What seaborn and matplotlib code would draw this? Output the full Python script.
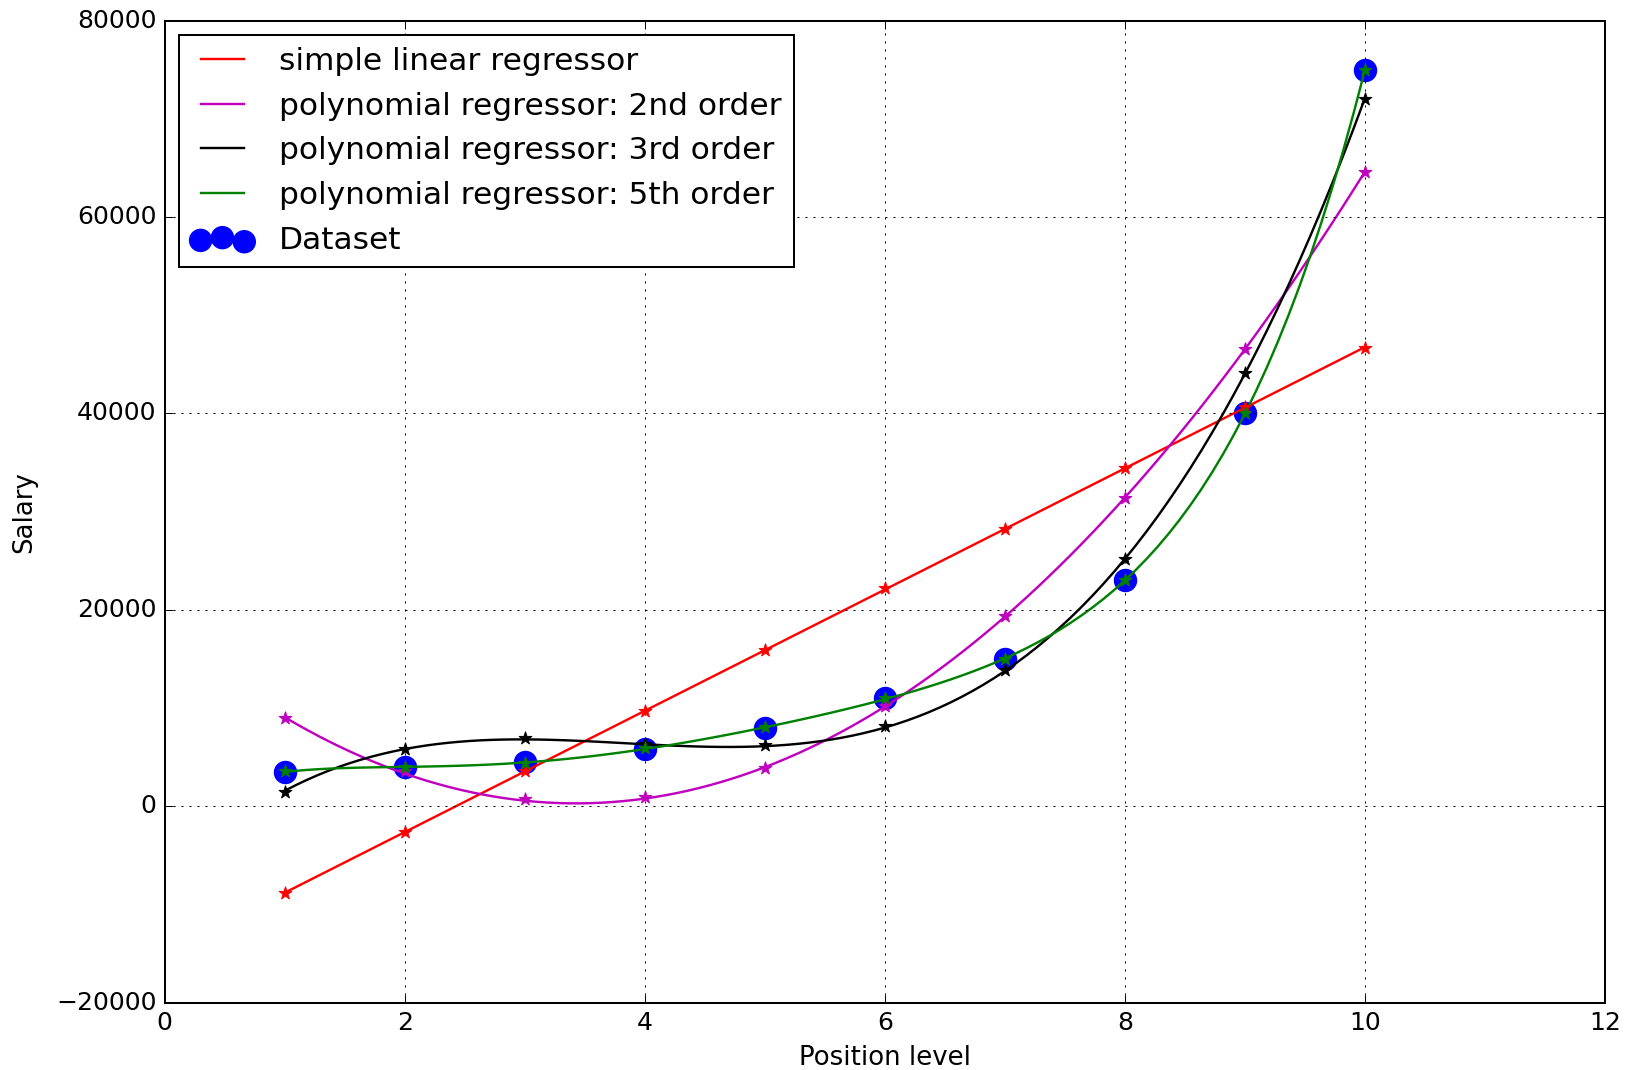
import numpy as np
import pandas as pd
import seaborn as sns
import matplotlib.pyplot as plt

plt.style.use('classic')

# Dataset
level = [1, 2, 3, 4, 5, 6, 7, 8, 9, 10]
salary = [3500, 4000, 4500, 5800, 8000, 11000, 15000, 23000, 40000, 75000]

# Predicted values at each level (star markers)
pred_linear = [-8800, -2600, 3600, 9750, 15950, 22200, 28250, 34400, 40700, 46700]
pred_poly2 = [9000, 3550, 700, 900, 3900, 10250, 19400, 31400, 46600, 64600]
pred_poly3 = [1500, 5850, 6950, 6300, 6200, 8200, 13850, 25150, 44100, 72000]
pred_poly5 = [3550, 4050, 4450, 5900, 8050, 11050, 15000, 23000, 40050, 74950]

names = ['simple linear regressor', 'polynomial regressor: 2nd order',
         'polynomial regressor: 3rd order', 'polynomial regressor: 5th order']
orders = [1, 2, 3, 5]
colors = ['red', 'm', 'black', 'green']
preds = [pred_linear, pred_poly2, pred_poly3, pred_poly5]

df = pd.DataFrame({'level': level, 'salary': salary})

fig, ax = plt.subplots(figsize=(1626 / 144, 1070 / 144), dpi=144, facecolor='white')
fig.subplots_adjust(left=0.1013, right=0.9871, top=0.9807, bottom=0.0629)

# dataset points underneath everything
sns.scatterplot(data=df, x='level', y='salary', color='blue', edgecolor='blue',
                s=115, linewidth=1, label='Dataset', zorder=1, ax=ax)

# fitted curves + predicted values
for name, order, color, pred in zip(names, orders, colors, preds):
    sns.regplot(data=df, x='level', y='salary', order=order, ci=None, scatter=False,
                color=color, label=name, line_kws={'lw': 1.2, 'zorder': 2}, ax=ax)
    sns.scatterplot(x=level, y=pred, marker='*', color=color, edgecolor=color,
                    s=45, linewidth=0.5, zorder=3, ax=ax)

ax.set_xlim(0, 12)
ax.set_ylim(-20000, 80000)
ax.set_xticks(np.arange(0, 13, 2))
ax.set_yticks(np.arange(-20000, 80001, 20000))
ax.tick_params(labelsize=12.5)
ax.grid(True)
ax.set_xlabel('Position level', fontsize=13)
ax.set_ylabel('Salary', fontsize=13)
ax.yaxis.set_label_coords(-0.0883, 0.5)

# lines first, dataset last (as in the original legend)
handles, labels = ax.get_legend_handles_labels()
order_idx = [labels.index(n) for n in names] + [labels.index('Dataset')]
ax.legend([handles[i] for i in order_idx], [labels[i] for i in order_idx],
          loc='upper left', fontsize=15.6, handlelength=2.0, scatterpoints=3,
          borderaxespad=0.45)

plt.savefig('out.png', dpi=144, facecolor='white')
